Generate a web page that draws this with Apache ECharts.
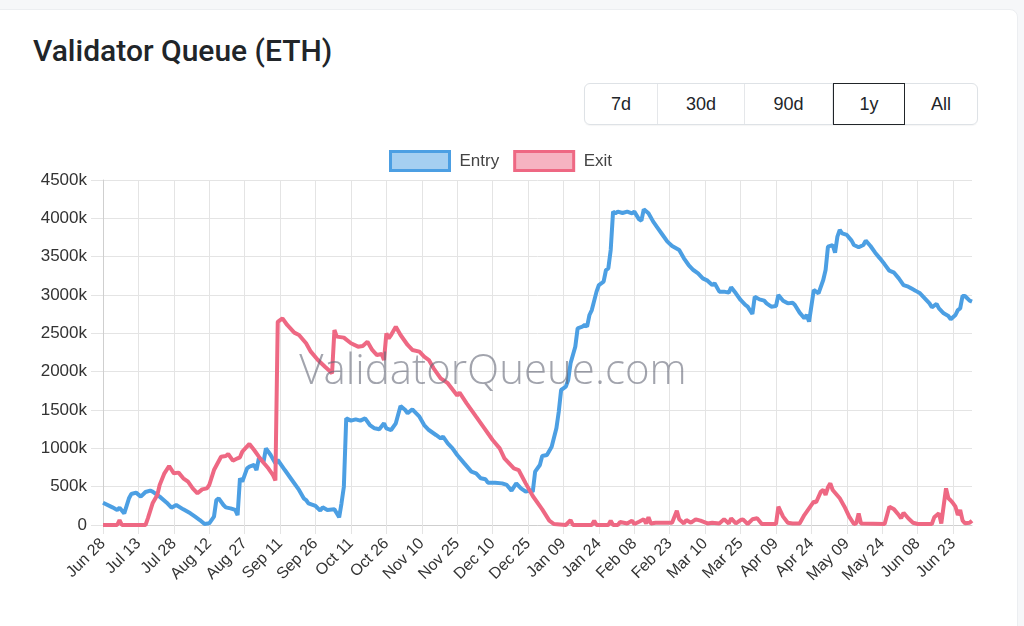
<!DOCTYPE html>
<html>
<head>
<meta charset="utf-8">
<script src="https://cdn.jsdelivr.net/npm/echarts@6/dist/echarts.min.js"></script>
<style>
  html, body { margin: 0; padding: 0; }
  body { width: 1024px; height: 626px; background: #f6f7f9; overflow: hidden; position: relative; font-family: 'Liberation Sans', Arial, sans-serif; }
  .card { position: absolute; left: -10px; top: 9px; width: 1026px; height: 640px; background: #fff; border: 1px solid #eceef1; border-radius: 8px; }
  .title { position: absolute; left: 33px; top: 33px; font-family: Roboto, sans-serif; font-weight: 500; font-size: 30px; color: #212529; margin: 0; }
  .btns { position: absolute; left: 584px; top: 83px; height: 40px; display: flex; border: 1px solid #dee2e6; border-radius: 6px; box-shadow: 0 1px 1px rgba(0,0,0,0.04); }
  .btns div { height: 40px; line-height: 40px; text-align: center; font-size: 18px; color: #212529; border-right: 1px solid #e5e7ea; box-sizing: border-box; }
  .btns div:last-child { border-right: 0; }
  .btns .active { border: 1px solid #212529; margin: -1px 0; height: 42px; line-height: 40px; }
  #chart { position: absolute; left: 0; top: 0; width: 1024px; height: 626px; }
</style>
</head>
<body>
<div class="card"></div>
<h3 class="title">Validator Queue (ETH)</h3>
<div class="btns">
  <div style="width:73px">7d</div>
  <div style="width:87px">30d</div>
  <div style="width:88px">90d</div>
  <div class="active" style="width:72px">1y</div>
  <div style="width:72px">All</div>
</div>
<div id="chart"></div>
<script>
// x axis labels, one every 15 days starting Jun 28
var tickLabels = ['Jun 28', 'Jul 13', 'Jul 28', 'Aug 12', 'Aug 27', 'Sep 11', 'Sep 26', 'Oct 11',
  'Oct 26', 'Nov 10', 'Nov 25', 'Dec 10', 'Dec 25', 'Jan 09', 'Jan 24', 'Feb 08', 'Feb 23',
  'Mar 10', 'Mar 25', 'Apr 09', 'Apr 24', 'May 09', 'May 24', 'Jun 08', 'Jun 23']

// days since Jun 28, queue size in k ETH
var entryDays = [0, 4, 6, 7, 9, 11, 12, 14, 16, 18, 20, 21, 24, 27, 29, 31, 34, 37, 39, 41, 43, 45, 47, 48, 49,
  51, 52, 54, 56, 57, 58, 59, 61, 62, 64, 65, 66, 68, 69, 71, 73, 74, 77, 80, 83, 85, 86, 87, 90, 92,
  93, 95, 98, 99, 100, 101, 102, 103, 105, 107, 109, 111, 113, 115, 117, 119, 120, 122, 124, 126, 128,
  129, 131, 134, 136, 138, 141, 143, 144, 146, 148, 150, 153, 156, 158, 160, 162, 163, 166, 169, 171,
  173, 175, 177, 179, 181, 182, 183, 185, 186, 188, 190, 192, 193, 194, 196, 197, 198, 200, 201, 203,
  204, 205, 206, 207, 209, 210, 212, 213, 214, 215, 216, 217, 218, 220, 222, 224, 225, 227, 228, 229,
  231, 233, 235, 237, 239, 241, 244, 246, 248, 250, 252, 254, 256, 258, 259, 261, 263, 265, 266, 268,
  270, 272, 273, 275, 276, 278, 280, 281, 283, 285, 286, 288, 290, 292, 293, 295, 297, 298, 299, 301,
  302, 303, 305, 306, 307, 309, 310, 311, 312, 313, 315, 317, 318, 320, 322, 323, 325, 327, 329, 331,
  333, 335, 337, 339, 341, 343, 344, 346, 348, 350, 351, 353, 354, 356, 358, 359, 361, 362, 363, 364,
  365, 367, 368]
var entryVals = [291, 230, 196, 226, 152, 348, 404, 422, 370, 430, 448, 435, 370, 291, 226, 261, 204, 152, 109, 65, 13, 22, 109, 326, 348,
  261, 230, 217, 196, 130, 609, 565, 739, 761, 783, 717, 870, 826, 1000, 913, 804, 848, 717, 587, 457, 348, 326, 283, 248, 187,
  230, 196, 204, 152, 100, 283, 500, 1391, 1361, 1378, 1361, 1391, 1304, 1261, 1248, 1326, 1261, 1239, 1326, 1552, 1500,
  1457, 1509, 1413, 1304, 1239, 1174, 1130, 1152, 1065, 1000, 913, 804, 696, 674, 609, 596, 552, 552, 543, 522,
  448, 543, 478, 435, 448, 435, 696, 783, 900, 913, 1022, 1261, 1478, 1761, 1804, 1891, 2109, 2326, 2565, 2587,
  2609, 2587, 2739, 2804, 3044, 3130, 3174, 3326, 3348, 3587, 4087, 4065, 4087, 4070, 4087, 4065, 4087, 3987, 3970, 4118,
  4065, 3957, 3870, 3783, 3696, 3639, 3587, 3478, 3391, 3326, 3283, 3217, 3187, 3130, 3152, 3044, 3044, 3031, 3100, 3022,
  2935, 2870, 2848, 2752, 2978, 2943, 2926, 2891, 2848, 2857, 3000, 2926, 2891, 2900, 2870, 2770, 2696, 2739, 2652, 3065,
  3044, 3022, 3196, 3326, 3630, 3652, 3552, 3761, 3848, 3804, 3783, 3709, 3652, 3622, 3652, 3709, 3639, 3552, 3478, 3400,
  3317, 3291, 3217, 3130, 3109, 3074, 3057, 3022, 2957, 2891, 2839, 2883, 2826, 2761, 2726, 2683, 2739, 2804, 2826, 2987,
  2987, 2926, 2913]

var exitDays = [0, 6, 7, 8, 18, 19, 21, 23, 24, 26, 28, 30, 32, 34, 36, 38, 40, 42, 44, 45, 47, 50, 52, 53, 55,
  57, 58, 59, 62, 64, 66, 68, 70, 72, 73, 74, 76, 78, 81, 83, 86, 88, 91, 94, 96, 97, 98, 99, 102, 105,
  108, 110, 112, 114, 116, 118, 119, 120, 121, 122, 124, 126, 129, 131, 134, 136, 138, 140, 143, 146, 150,
  151, 154, 158, 161, 165, 168, 170, 174, 176, 179, 182, 186, 189, 191, 196, 198, 199, 207, 208, 209, 214,
  215, 216, 218, 219, 222, 224, 225, 227, 229, 230, 231, 232, 234, 241, 243, 244, 246, 247, 249, 251, 253,
  256, 258, 261, 263, 265, 266, 268, 270, 271, 273, 275, 277, 279, 285, 286, 288, 290, 292, 295, 297, 299,
  301, 302, 304, 305, 306, 307, 308, 309, 312, 314, 316, 318, 319, 320, 321, 331, 333, 335, 337, 338, 339,
  341, 343, 345, 351, 352, 354, 355, 357, 358, 359, 360, 361, 362, 363, 364, 365, 367, 368]
var exitVals = [0, 0, 65, 0, 0, 87, 283, 391, 522, 674, 770, 674, 683, 609, 565, 478, 413, 465, 478, 522, 717, 891, 900, 926, 839,
  870, 883, 957, 1057, 978, 891, 813, 740, 650, 580, 2650, 2696, 2609, 2509, 2478, 2370, 2261, 2152, 2065, 2010, 1978, 2543, 2457, 2444, 2370,
  2326, 2335, 2391, 2283, 2217, 2230, 2152, 2500, 2435, 2478, 2587, 2478, 2348, 2283, 2261, 2196, 2152, 2044, 1913, 1850, 1690,
  1726, 1587, 1413, 1283, 1109, 1000, 870, 739, 717, 543, 378, 204, 57, 13, 0, 65, 0, 0, 57, 0, 0,
  57, 0, 0, 40, 20, 57, 13, 43, 74, 20, 100, 20, 30, 30, 187, 74, 20, 65, 30, 74, 57,
  20, 30, 20, 74, 20, 87, 20, 65, 74, 13, 74, 87, 13, 13, 239, 109, 30, 20, 20, 130, 217,
  304, 296, 435, 457, 391, 491, 543, 457, 348, 239, 109, 13, 22, 152, 20, 13, 239, 204, 130, 87, 161,
  87, 30, 13, 13, 100, 152, 20, 478, 348, 320, 283, 239, 130, 196, 60, 22, 30, 57]

var entryColor = '#4c9fe3'
var exitColor = '#ee6883'

function pairs(days, vals) {
  return days.map(function (d, i) { return [d, vals[i]] })
}

var chart = echarts.init(document.getElementById('chart'), null, { renderer: 'canvas' })
var gridColor = '#e4e4e4'
var option = {
  animation: false,
  textStyle: { fontFamily: "'Liberation Sans', Arial, sans-serif" },
  legend: {
    top: 145,
    left: 384,
    icon: 'rect',
    itemWidth: 59,
    itemHeight: 19,
    itemGap: 14,
    textStyle: { fontSize: 17, color: '#444', padding: [0, 0, 0, 5] },
    data: [
      { name: 'Entry', itemStyle: { color: 'rgba(76,159,227,0.5)', borderColor: entryColor, borderWidth: 3 } },
      { name: 'Exit', itemStyle: { color: 'rgba(238,104,131,0.5)', borderColor: exitColor, borderWidth: 3 } }
    ]
  },
  grid: { left: 103, right: 52, top: 180, bottom: 101, containLabel: false },
  xAxis: {
    type: 'value',
    min: 0,
    max: 368,
    interval: 15,
    axisLine: { show: true, onZero: false, lineStyle: { color: '#cfcfcf' } },
    axisTick: { show: true, length: 9, lineStyle: { color: gridColor } },
    splitLine: { show: true, showMaxLine: false, lineStyle: { color: gridColor } },
    axisLabel: {
      rotate: 45,
      fontSize: 16,
      color: '#333',
      margin: 16,
      showMaxLabel: false,
      formatter: function (v) { return v % 15 === 0 ? (tickLabels[v / 15] || '') : '' }
    }
  },
  yAxis: {
    type: 'value',
    min: 0,
    max: 4500,
    interval: 500,
    axisLine: { show: true, lineStyle: { color: '#cfcfcf' } },
    axisTick: { show: true, length: 12, lineStyle: { color: gridColor } },
    splitLine: { show: true, lineStyle: { color: gridColor } },
    axisLabel: {
      fontSize: 17,
      color: '#333',
      margin: 16,
      formatter: function (v) { return v === 0 ? '0' : v + 'k' }
    }
  },
  graphic: [{
    type: 'text',
    x: 493,
    y: 372,
    z: 100,
    silent: true,
    style: {
      text: 'ValidatorQueue.com',
      font: "300 42px 'Open Sans', sans-serif",
      fill: 'rgba(100,104,118,0.6)',
      align: 'center',
      verticalAlign: 'middle'
    }
  }],
  series: [
    {
      name: 'Entry',
      type: 'line',
      showSymbol: false,
      lineStyle: { width: 4, color: entryColor },
      itemStyle: { color: entryColor },
      data: pairs(entryDays, entryVals)
    },
    {
      name: 'Exit',
      type: 'line',
      showSymbol: false,
      lineStyle: { width: 4, color: exitColor },
      itemStyle: { color: exitColor },
      data: pairs(exitDays, exitVals)
    }
  ]
}
chart.setOption(option)
</script>
</body>
</html>
